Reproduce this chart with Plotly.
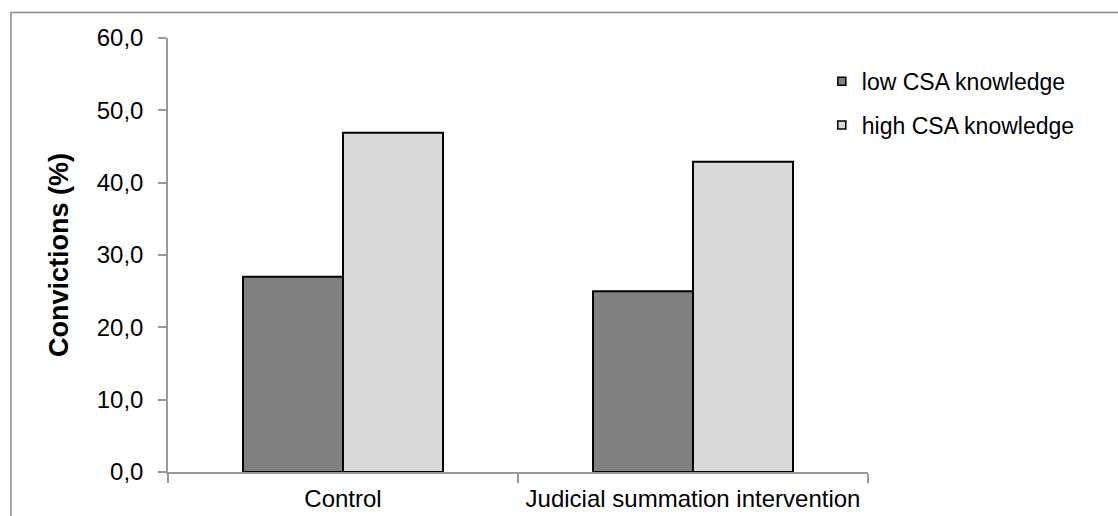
import plotly.graph_objects as go

# Conviction rates by condition and CSA knowledge level
conditions = ["Control", "Judicial summation intervention"]
low_knowledge = [27.0, 25.0]
high_knowledge = [46.9, 42.9]
series_names = ["low CSA knowledge", "high CSA knowledge"]
y_ticks = [0, 10, 20, 30, 40, 50, 60]

DARK = "#808080"
LIGHT = "#d9d9d9"
FONT = "Liberation Sans, Arial, sans-serif"

fig = go.Figure()

for name, vals, col in [(series_names[0], low_knowledge, DARK),
                        (series_names[1], high_knowledge, LIGHT)]:
    fig.add_trace(go.Bar(
        x=conditions, y=vals, name=name, showlegend=False,
        marker=dict(color=col, line=dict(color="black", width=2)),
    ))

# small square legend keys
for i, (name, col) in enumerate([(series_names[0], DARK), (series_names[1], LIGHT)]):
    fig.add_trace(go.Scatter(
        x=[None], y=[None], mode="markers", name=name,
        legendgroup=f"g{i}",
        marker=dict(symbol="square", size=8, color=col,
                    line=dict(color="black", width=1.5)),
    ))

fig.update_layout(
    width=1118, height=516,
    margin=dict(l=168, r=250, t=38, b=44),
    paper_bgcolor="white", plot_bgcolor="white",
    barmode="group", bargap=0.4286, bargroupgap=0,
    separators=", ",
    font=dict(family=FONT, color="black"),
    showlegend=True,
    legend=dict(
        x=0.934, y=0.95, xanchor="left", yanchor="top",
        font=dict(size=23, family=FONT), bgcolor="rgba(0,0,0,0)",
        traceorder="grouped", tracegroupgap=11,
    ),
    shapes=[dict(
        type="rect", xref="paper", yref="paper",
        x0=-0.2243, x1=1.40, y0=-0.12, y1=1.0588,
        line=dict(color="#8c8c8c", width=1.5), layer="below",
    )],
)

fig.update_yaxes(
    range=[0, 60], tickvals=y_ticks, tickformat=".1f",
    showgrid=False, zeroline=False, automargin=False,
    showline=True, linecolor="#999999", linewidth=1.5,
    ticks="outside", ticklen=8, tickcolor="#999999", tickwidth=1.5,
    ticklabelstandoff=10,
    tickfont=dict(size=24, family=FONT),
    title=dict(text="<b>Convictions (%)</b>", font=dict(size=27, family=FONT), standoff=20),
)
fig.update_xaxes(
    showgrid=False, zeroline=False, automargin=False,
    showline=True, linecolor="#999999", linewidth=1.5,
    ticks="outside", tickson="boundaries", ticklen=9, tickcolor="#999999", tickwidth=1.5,
    ticklabelstandoff=4, tickangle=0,
    tickfont=dict(size=24, family=FONT),
)

fig.write_html("out.html")
